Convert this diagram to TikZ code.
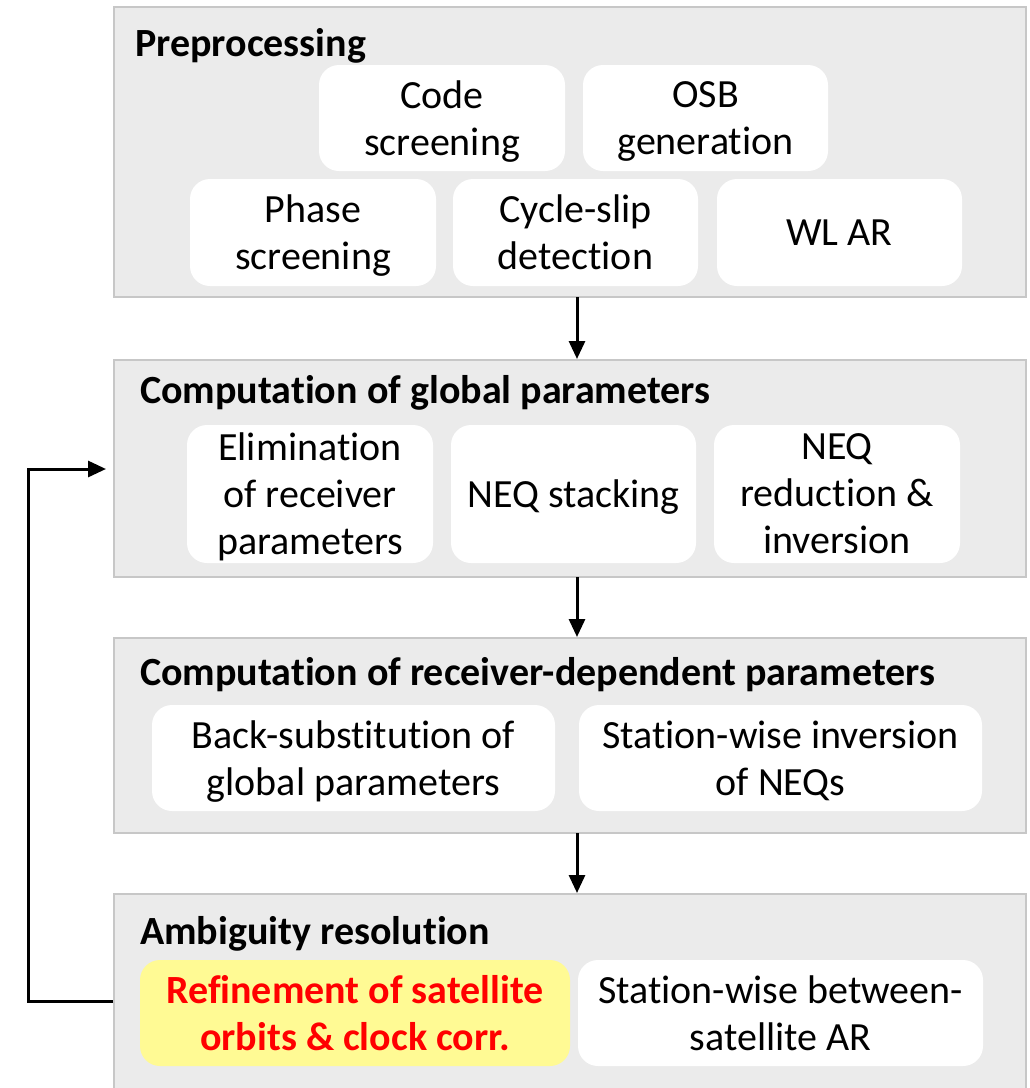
\documentclass[tikz,border=0pt]{standalone}
\usepackage{fontspec}
\setmainfont{Carlito}[Ligatures=NoCommon]
\usetikzlibrary{arrows.meta,positioning}
\tikzset{
  panel/.style={draw=black!22, line width=2pt, fill=black!8, inner sep=0pt},
  inbox/.style={fill=white, draw=none, rounded corners=20pt, align=center, inner sep=0pt,
    text depth=0pt, font=\fontsize{40}{47}\selectfont},
  hilite/.style={inbox, fill=yellow!42, text=red, font=\fontsize{40}{47}\selectfont\bfseries},
  ptitle/.style={anchor=west, inner sep=0pt, font=\fontsize{40}{47}\selectfont\bfseries},
  flow/.style={line width=3pt, -{Triangle[width=16pt,length=18pt]}}
}
\newcommand{\bx}[7]{% name, style, x1, y1, x2, y2, text
  \node[#2, minimum width=#5pt-#3pt, minimum height=#6pt-#4pt] (#1) at ({(#3+#5)/2*1pt},{-(#4+#6)/2*1pt}) {#7};}
\begin{document}
\begin{tikzpicture}[x=1pt,y=-1pt]
\useasboundingbox (0,0) rectangle (1030,1088);
% panels
\bx{p1}{panel}{114}{7}{1026}{297}{}
\bx{p2}{panel}{114}{360}{1026}{577}{}
\bx{p3}{panel}{114}{638}{1026}{833}{}
\bx{p4}{panel}{114}{894}{1026}{1100}{}
% titles
\node[ptitle] (t1) at (135,46) {Preprocessing};
\node[ptitle] (t2) at (140,393) {Computation of global parameters};
\node[ptitle] (t3) at (140,675) {Computation of receiver-dependent parameters};
\node[ptitle] (t4) at (140,934) {Ambiguity resolution};
% panel 1
\bx{a1}{inbox}{319}{65}{565}{171}{Code\\screening}
\bx{a2}{inbox}{583}{65}{828}{171}{OSB\\generation}
\bx{a3}{inbox}{190}{179}{436}{286}{Phase\\screening}
\bx{a4}{inbox}{453}{179}{698}{286}{Cycle-slip\\detection}
\bx{a5}{inbox}{717}{179}{962}{286}{WL AR}
% panel 2
\bx{b1}{inbox}{187}{425}{433}{563}{Elimination\\of receiver\\parameters}
\bx{b2}{inbox}{451}{425}{696}{563}{NEQ stacking}
\bx{b3}{inbox}{714}{425}{960}{563}{NEQ\\reduction \&\\inversion}
% panel 3
\bx{c1}{inbox}{152}{705}{555}{811}{Back-substitution of\\global parameters}
\bx{c2}{inbox}{579}{705}{982}{811}{Station-wise inversion\\of NEQs}
% panel 4
\bx{d1}{hilite}{140}{960}{570}{1066}{Refinement of satellite\\orbits \& clock corr.}
\bx{d2}{inbox}{578}{960}{983}{1066}{Station-wise between-\\satellite AR}
% arrows
\draw[flow] (577,297) -- (577,359);
\draw[flow] (577,577) -- (577,637);
\draw[flow] (577,833) -- (577,893);
\coordinate (fb) at (28,469);
\draw[flow] (p4.west |- 0,1001) -- (28,1001) -- (fb) -- (106,469);
\end{tikzpicture}
\end{document}
